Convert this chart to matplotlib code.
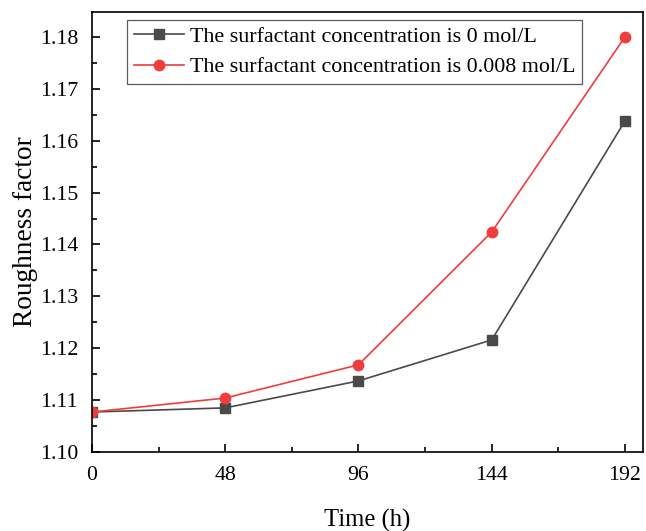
import numpy as np
import matplotlib
matplotlib.use("Agg")
import matplotlib.pyplot as plt
from matplotlib.ticker import MultipleLocator

plt.rcParams['font.family'] = ['Liberation Serif', 'DejaVu Serif']

time_h = [0, 48, 96, 144, 192]
rough_0 = [1.1077, 1.1085, 1.1137, 1.1216, 1.1638]
rough_008 = [1.1077, 1.1104, 1.1168, 1.1424, 1.1800]
labels = ["The surfactant concentration is 0 mol/L",
          "The surfactant concentration is 0.008 mol/L"]

fig = plt.figure(figsize=(6.46, 5.31), dpi=100)
ax = fig.add_axes([0.1424, 0.1488, 0.853, 0.8286])

ax.plot(time_h, rough_0, color='#4a4a4a', marker='s', markersize=7, lw=1.2, label=labels[0])
ax.plot(time_h, rough_008, color='#f03c3c', marker='o', markersize=7.5, lw=1.2, label=labels[1])

ax.set_xlim(0, 198.5)
ax.set_ylim(1.10, 1.1848)
ax.set_xticks(time_h)
ax.xaxis.set_minor_locator(MultipleLocator(24))
ax.yaxis.set_major_locator(MultipleLocator(0.01))
ax.yaxis.set_minor_locator(MultipleLocator(0.005))
ax.yaxis.set_major_formatter(matplotlib.ticker.FormatStrFormatter('%.2f'))
ax.tick_params(which='both', direction='in', labelsize=15.7, width=1.2)
ax.tick_params(which='major', length=6)
ax.tick_params(which='minor', length=3.5)
ax.tick_params(axis='x', pad=10)
ax.tick_params(axis='y', pad=10)
for s in ax.spines.values():
    s.set_linewidth(1.2)

ax.set_xlabel("Time (h)", fontsize=17.7, labelpad=17)
ax.set_ylabel("Roughness factor", fontsize=19.7, labelpad=1)

leg = ax.legend(loc='upper left', bbox_to_anchor=(0.0635, 0.982), fontsize=15.85, frameon=True,
                fancybox=False, edgecolor='#333333', handlelength=2.3, borderpad=0.3,
                labelspacing=0.45, handletextpad=0.25, borderaxespad=0.0)
leg.get_frame().set_linewidth(0.9)

fig.savefig("out.png", dpi=100)
